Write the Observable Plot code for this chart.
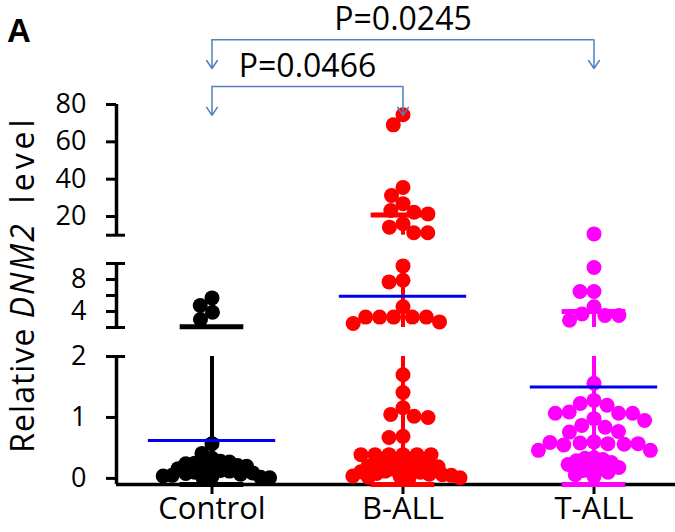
<!DOCTYPE html>
<html>
<head>
<meta charset="utf-8">
<script src="https://cdn.jsdelivr.net/npm/d3@7"></script>
<script src="https://cdn.jsdelivr.net/npm/@observablehq/plot@0.6"></script>
<style>
  html, body { margin: 0; padding: 0; background: #fff; }
  #wrap { position: relative; width: 675px; height: 532px; overflow: hidden; }
  #panel { position: absolute; left: 7px; top: 14px; font: bold 33px "Liberation Sans", Arial, sans-serif; line-height: 33px; }
  #ytitle { position: absolute; left: 22px; top: 284px; transform: translate(-50%, -50%) rotate(-90deg);
            white-space: nowrap; font: 32px "Open Sans", sans-serif; line-height: 30px; letter-spacing: 1px; }
  #ytitle i { letter-spacing: 2px; }
  #ytitle .lv { letter-spacing: 4px; }
  #chart { position: absolute; left: 0; top: 0; }
</style>
</head>
<body>
<div id="wrap">
  <div id="chart"></div>
  <div id="panel">A</div>
  <div id="ytitle">Relative <i>DNM2</i>&nbsp;&nbsp;<span class="lv">level</span></div>
</div>
<script>
// ---------- data ----------
const categories = ["Control", "B-ALL", "T-ALL"];
const groupColors = ["#000000", "#ff0000", "#ff00ff"];

const controlValues = [5.7, 4.75, 3.9, 3.0,
  0.57, 0.41, 0.33, 0.3, 0.28, 0.27, 0.25, 0.24, 0.21, 0.2, 0.18, 0.16, 0.15, 0.13,
  0.12, 0.1, 0.09, 0.08, 0.07, 0.05, 0.04, 0.03, 0.02, 0.01, 0.0];

const bAllValues = [74.5, 69.1, 35.6, 31.3, 26.9, 23.2, 22.3, 21.4, 16.1, 14.3, 11.3, 11.3,
  9.7, 7.9, 7.7, 4.6, 3.3, 3.3, 3.3, 3.3, 3.3, 2.7, 2.5,
  1.7, 1.41, 1.16, 1.05, 1.02, 1.0, 0.69, 0.67, 0.39, 0.39, 0.39, 0.39, 0.39, 0.39, 0.32, 0.31,
  0.29, 0.27, 0.25, 0.24, 0.22, 0.2, 0.19, 0.17, 0.15, 0.14, 0.12, 0.11, 0.1, 0.08, 0.07,
  0.06, 0.05, 0.04, 0.03, 0.02, 0.01, 0.0];

const tAllValues = [10.7,
  9.5, 6.5, 6.5, 4.6, 3.7, 3.5, 3.5, 2.9,
  1.56, 1.28, 1.23, 1.2, 1.09, 1.07, 1.07, 1.07, 0.98, 0.95,
  0.87, 0.84, 0.77, 0.76, 0.6, 0.58, 0.57, 0.56, 0.55, 0.57, 0.59,
  0.46, 0.46, 0.34, 0.33, 0.31, 0.29, 0.26, 0.23, 0.2, 0.18, 0.15, 0.13, 0.1, 0.06, 0.03];

const groupMeans = [0.62, 5.9, 1.5];       // blue lines
const errorTops = [2.1, 20.8, 4.0];        // upper whisker caps

const yTickLabels = [0, 1, 2, 4, 8, 20, 40, 60, 80];
const yOutTicks = [0, 1, 4, 6, 8, 20, 40, 60, 80];

const comparisons = [
  {from: "Control", to: "B-ALL", label: "P=0.0466"},
  {from: "Control", to: "T-ALL", label: "P=0.0245"}
];

// ---------- broken axis definition ----------
const eps = 1e-4;
const yMin = -0.1, yMax = 80;
const segments = [[yMin, 2], [2 + eps, 10], [10 + eps, yMax]];
const capValues = [2, 2 + eps, 10, 10 + eps];
// each piece of the broken axis gets its own length (in axis units, bottom = 0)
const brokenY = d3.scaleLinear()
  .domain([yMin, 2, 2 + eps, 10, 10 + eps, yMax])
  .range([0, 128, 157, 221, 249.3, 380]);

// ---------- derived tables ----------
const valuesByGroup = [controlValues, bAllValues, tAllValues];
const points = categories.flatMap((g, i) => valuesByGroup[i].map(v => ({group: g, value: v})));
const denseBelow = 0.35; // crowded values near zero are swarmed with overlap, like the original
const sparsePoints = points.filter(d => d.value >= denseBelow);
const densePoints = points.filter(d => d.value < denseBelow);
const stats = categories.map((g, i) => ({group: g, mean: groupMeans[i], lo: yMin, hi: errorTops[i]}));
const whiskers = stats.flatMap(s => segments
  .map(([a, b]) => ({group: s.group, y1: Math.max(a, s.lo), y2: Math.min(b, s.hi)}))
  .filter(d => d.y2 > d.y1));
const caps = stats.flatMap(s => [{group: s.group, y: s.lo}, {group: s.group, y: s.hi}]);

const idx = g => categories.indexOf(g);
const bandUnits = 2; // x domain [-1, 1] spans one category band
const bracketLevels = [89.6, 114.7];
const drop = 15.4;
const brackets = comparisons.map((c, i) => ({...c, off: (idx(c.to) - idx(c.from)) * bandUnits, level: bracketLevels[i]}));
const arrowsData = brackets.flatMap(b => [{x: 0, y1: b.level, y2: b.level - drop}, {x: b.off, y1: b.level, y2: b.level - drop}]);

const onFirst = () => categories[0];
const annot = "#4f81bd";

const plot = Plot.plot({
  width: 675,
  height: 532,
  marginLeft: 115,
  marginRight: -15,
  marginTop: 104,
  marginBottom: 48,
  style: {fontFamily: "'Open Sans', sans-serif", fontSize: "27px", background: "white", overflow: "visible"},
  fx: {domain: categories, padding: 0, label: null},
  x: {domain: [-1, 1], axis: null},
  y: {transform: brokenY, domain: [0, 380], range: [484, 104], axis: null},
  color: {domain: categories, range: groupColors},
  marks: [
    // x axis line
    Plot.ruleY([yMin], {stroke: "black", strokeWidth: 3.5}),
    // y axis segments, ticks, caps and labels
    Plot.ruleX(segments, {fx: onFirst, x: -1, y1: d => d[0], y2: d => d[1], stroke: "black", strokeWidth: 3.5}),
    Plot.ruleY(yOutTicks, {fx: onFirst, y: d => d, x1: -1, x2: -1, insetLeft: -10, stroke: "black", strokeWidth: 3}),
    Plot.ruleY(capValues, {fx: onFirst, y: d => d, x1: -1, x2: -1, insetLeft: -10, insetRight: -9, stroke: "black", strokeWidth: 3}),
    Plot.text(yTickLabels, {fx: onFirst, y: d => d, text: d => String(d), frameAnchor: "left", textAnchor: "end", dx: -30, fontSize: 27, fill: "black"}),
    Plot.axisFx({anchor: "bottom", tickSize: 10, tickPadding: 2, fontSize: 31, strokeWidth: 3, label: null}),
    // points
    Plot.dot(densePoints, Plot.dodgeX({anchor: "middle", padding: -6, fx: "group", y: "value", r: 7.5, fill: "group"})),
    Plot.dot(sparsePoints, Plot.dodgeX({anchor: "middle", padding: -1, fx: "group", y: "value", r: 7.5, fill: "group"})),
    // whiskers and caps
    Plot.ruleX(whiskers, {fx: "group", x: 0, y1: "y1", y2: "y2", stroke: "group", strokeWidth: 4}),
    Plot.ruleY(caps, {fx: "group", y: "y", x1: -1/3, x2: 1/3, stroke: "group", strokeWidth: 5}),
    // means
    Plot.ruleY(stats, {fx: "group", y: "mean", x1: -2/3, x2: 2/3, stroke: "#0000ee", strokeWidth: 3}),
    // significance brackets
    Plot.ruleY(brackets, {fx: onFirst, y: "level", x1: 0, x2: "off", stroke: annot, strokeWidth: 1.5}),
    Plot.arrow(arrowsData, {fx: onFirst, x1: "x", x2: "x", y1: "y1", y2: "y2", stroke: annot, strokeWidth: 1.5, headLength: 10, headAngle: 68}),
    Plot.text(brackets, {fx: onFirst, x: d => d.off / 2, y: "level", text: "label", dy: -10, lineAnchor: "bottom", fontSize: 32, fill: "black"})
  ]
});
document.getElementById("chart").appendChild(plot);
</script>
</body>
</html>
